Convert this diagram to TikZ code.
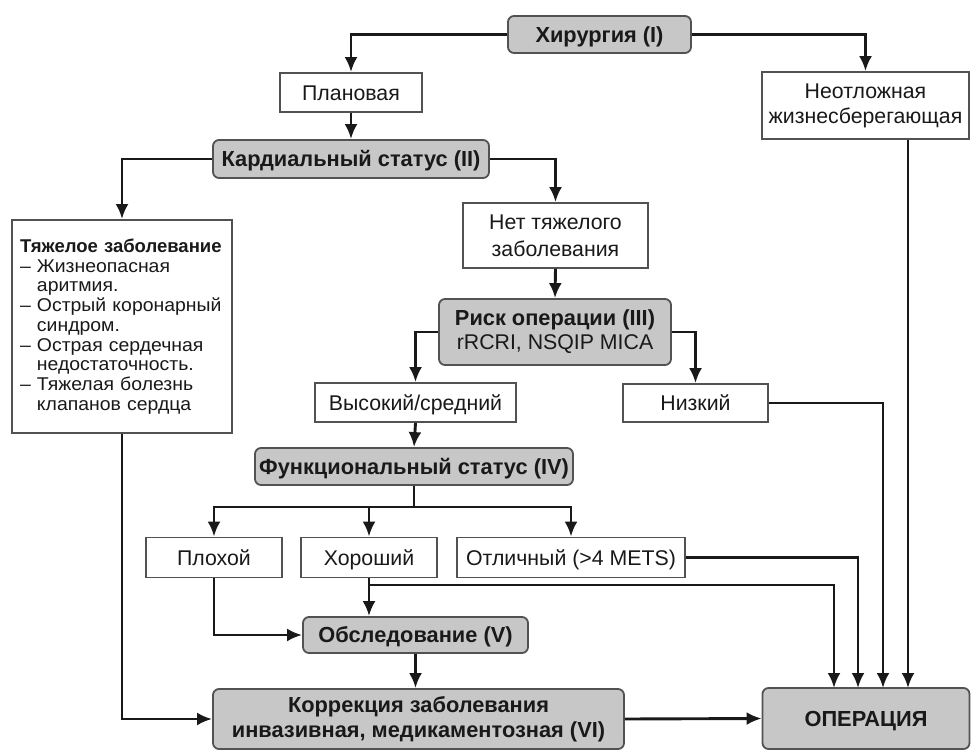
\documentclass[tikz,border=0pt]{standalone}
\usepackage{fontspec}
\setmainfont{Liberation Sans}
\newfontfamily\widefont{Liberation Sans}[FakeStretch=1.05]
\usetikzlibrary{arrows.meta,calc}
\begin{document}
\begin{tikzpicture}[x=1pt,y=-1pt,
  conn/.style={line width=2.9pt, draw=black!90},
  connarr/.style={conn, -{Latex[length=15pt,width=13pt]}},
  wbox/.style={draw=black!68, line width=1.8pt, fill=white, inner sep=0pt, align=center,
    text=black!90, font=\fontsize{21.3}{26}\selectfont},
  gbox/.style={wbox, fill=black!22, rounded corners=6pt, font=\bfseries\fontsize{21.8}{26}\selectfont},
  oneline/.style={text height=15.3pt, text depth=0pt}]
\useasboundingbox (0,0) rectangle (971,751);

\node[gbox, oneline, minimum width=183pt, minimum height=37pt] (h1) at (599.5,34.5) {Хирургия (I)};
\node[wbox, oneline, minimum width=142pt, minimum height=39pt] (plan) at (351,92.5) {Плановая};
\node[wbox, minimum width=207pt, minimum height=67pt, font=\fontsize{21.3}{25}\selectfont] (neotl) at (865.5,105.5) {Неотложная\\жизнесберегающая};
\node[gbox, oneline, minimum width=276pt, minimum height=38pt] (kard) at (351,159) {Кардиальный статус (II)};
\node[wbox, minimum width=220pt, minimum height=213pt, text width=204pt, align=left,
  font=\fontsize{18.5}{19.7}\selectfont] (heavy) at (122,326.5)
  {\mbox{\bfseries Тяжелое заболевание}\\
   \widefont
   \mbox{– Жизнеопасная}\\
   \mbox{\hphantom{– }аритмия.}\\
   \mbox{– Острый коронарный}\\
   \mbox{\hphantom{– }синдром.}\\
   \mbox{– Острая сердечная}\\
   \mbox{\hphantom{– }недостаточность.}\\
   \mbox{– Тяжелая болезнь}\\
   \mbox{\hphantom{– }клапанов сердца}};
\node[wbox, minimum width=185pt, minimum height=65pt, font=\fontsize{21.3}{27}\selectfont] (noheavy) at (555.5,235.5) {Нет тяжелого\\заболевания};
\node[gbox, minimum width=232pt, minimum height=66pt, font=\bfseries\fontsize{21.8}{24}\selectfont] (risk) at (555,332) {Риск операции (III)\\{\mdseries\fontsize{21.3}{24}\selectfont rRCRI, NSQIP MICA}};
\node[wbox, oneline, minimum width=201pt, minimum height=39pt] (high) at (415.5,402.5) {Высокий/средний};
\node[wbox, oneline, minimum width=145pt, minimum height=38pt] (low) at (695.5,403) {Низкий};
\node[gbox, oneline, minimum width=318pt, minimum height=37pt] (func) at (414,466.5) {Функциональный статус (IV)};
\node[wbox, oneline, minimum width=136pt, minimum height=40pt] (bad) at (214,557.5) {Плохой};
\node[wbox, oneline, minimum width=136pt, minimum height=40pt] (good) at (369,557.5) {Хороший};
\node[wbox, oneline, minimum width=228pt, minimum height=40pt] (exc) at (571,557.5) {Отличный (>4 METS)};
\node[gbox, oneline, minimum width=225pt, minimum height=36pt] (obsl) at (415.5,635) {Обследование (V)};
\node[gbox, minimum width=411pt, minimum height=60pt, font=\bfseries\fontsize{21.8}{25}\selectfont] (corr) at (418.5,719) {Коррекция заболевания\\инвазивная, медикаментозная (VI)};
\node[gbox, oneline, minimum width=207pt, minimum height=61pt] (oper) at (866,718.5) {ОПЕРАЦИЯ};

\coordinate (o1) at (834,688);
\coordinate (o2) at (858,688);
\coordinate (o3) at (883,688);
\coordinate (o4) at (908,688);
\coordinate (fj) at (414,507);
\coordinate (gj) at (369,585);

\draw[connarr] (h1.west) -| (plan.north);
\draw[connarr] (h1.east) -| (neotl.north);
\draw[connarr] (plan.south) -- (kard.north);
\draw[connarr] (kard.west) -| (heavy.north);
\draw[connarr] (kard.east) -| (noheavy.north);
\draw[connarr] (noheavy.south) -- (risk.north);
\draw[connarr] (risk.west) -| (high.north);
\draw[connarr] (risk.east) -| (low.north);
\draw[connarr] (high.south) -- (func.north);
\draw[conn] (func.south) -- (fj);
\draw[connarr] (fj) -| (bad.north);
\draw[connarr] (fj) -| (good.north);
\draw[connarr] (fj) -| (exc.north);
\draw[connarr] (exc.east) -| (o2);
\draw[conn] (good.south) -- (gj);
\draw[connarr] (gj) -- (gj |- obsl.north);
\draw[connarr] (gj) -| (o1);
\draw[connarr] (bad.south) |- (obsl.west);
\draw[connarr] (low.east) -| (o3);
\draw[connarr] (o4 |- neotl.south) -- (o4);
\draw[connarr] (obsl.south) -- (obsl.south |- corr.north);
\draw[connarr] (heavy.south) |- (corr.west);
\draw[connarr] (corr.east) -- (oper.west);
\end{tikzpicture}
\end{document}
